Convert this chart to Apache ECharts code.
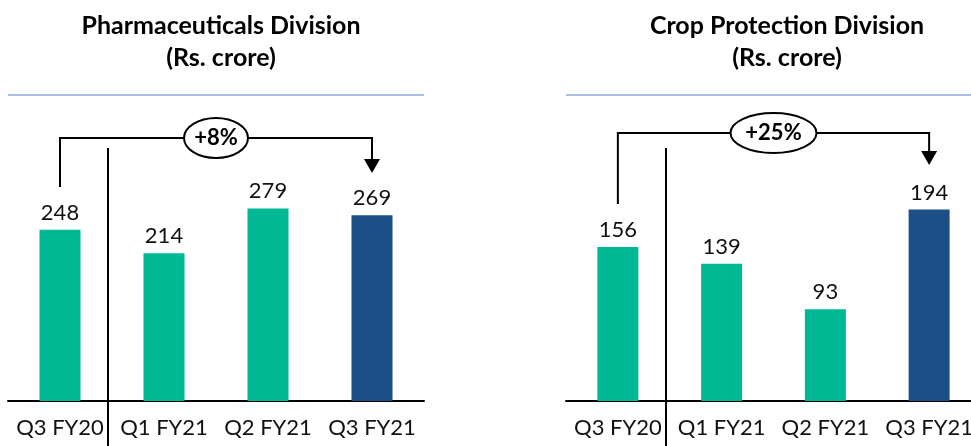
<!DOCTYPE html>
<html>
<head>
<meta charset="utf-8">
<script src="https://cdn.jsdelivr.net/npm/echarts@6/dist/echarts.min.js"></script>
<style>
  html, body { margin: 0; padding: 0; background: #fff; }
  #main { width: 971px; height: 446px; }
</style>
</head>
<body>
<div id="main"></div>
<script>
// data
var categories = ["Q3 FY20", "Q1 FY21", "Q2 FY21", "Q3 FY21"];
var pharmaValues = [248, 214, 279, 269];
var cropValues = [156, 139, 93, 194];
var pharmaGrowth = "+8%";
var cropGrowth = "+25%";

var TEAL = "#00b894";
var NAVY = "#1b4f85";
var FONT = "Lato, 'Open Sans', sans-serif";

function barData(values) {
  return values.map(function (v, i) {
    return { value: v, itemStyle: { color: i === values.length - 1 ? NAVY : TEAL } };
  });
}

function xAxisFor(gridIndex) {
  return {
    type: "category",
    gridIndex: gridIndex,
    data: categories,
    axisLine: { show: true, lineStyle: { color: "#000", width: 2 } },
    axisTick: { show: false },
    axisLabel: { color: "#111", fontSize: 22, fontFamily: FONT, margin: 16, interval: 0 }
  };
}

function yAxisFor(gridIndex, max) {
  return {
    type: "value",
    gridIndex: gridIndex,
    min: 0,
    max: max,
    show: false,
    splitLine: { show: false }
  };
}

function barSeries(idx, values) {
  return {
    type: "bar",
    xAxisIndex: idx,
    yAxisIndex: idx,
    barWidth: 41,
    data: barData(values),
    label: {
      show: true,
      position: "top",
      distance: 6,
      color: "#111",
      fontSize: 22,
      fontFamily: FONT
    }
  };
}

var myChart = echarts.init(document.getElementById("main"));
myChart.setOption({
  animation: false,
  title: [
    {
      text: "Pharmaceuticals Division\n(Rs. crore)",
      left: 216,
      top: 5,
      textAlign: "center",
      textStyle: { fontSize: 25, fontWeight: "bold", color: "#000", lineHeight: 32, fontFamily: FONT }
    },
    {
      text: "Crop Protection Division\n(Rs. crore)",
      left: 782,
      top: 5,
      textAlign: "center",
      textStyle: { fontSize: 25, fontWeight: "bold", color: "#000", lineHeight: 32, fontFamily: FONT }
    }
  ],
  grid: [
    { left: 8, width: 416, top: 100, height: 301, outerBoundsMode: "none" },
    { left: 566, width: 415, top: 100, height: 301, outerBoundsMode: "none" }
  ],
  xAxis: [xAxisFor(0), xAxisFor(1)],
  yAxis: [yAxisFor(0, 436), yAxisFor(1, 305)],
  series: [barSeries(0, pharmaValues), barSeries(1, cropValues)]
});

// bracket annotations, positioned from the axes
function bracket(idx, values, growth, topY, leftBottom, tipY, lineX0, lineX1) {
  var first = myChart.convertToPixel({ xAxisIndex: idx, yAxisIndex: idx }, [0, values[0]]);
  var last = myChart.convertToPixel({ xAxisIndex: idx, yAxisIndex: idx }, [values.length - 1, values[values.length - 1]]);
  var second = myChart.convertToPixel({ xAxisIndex: idx, yAxisIndex: idx }, [1, 0]);
  var sepX = Math.round((first[0] + second[0]) / 2 - 4);
  var midX = (first[0] + last[0]) / 2;
  var rx = growth.length > 3 ? 43 : 32;
  return [
    { type: "line", shape: { x1: lineX0, y1: 95, x2: lineX1, y2: 95 }, style: { stroke: "#8faadc", lineWidth: 1.5 } },
    { type: "line", shape: { x1: sepX, y1: 148, x2: sepX, y2: 446 }, style: { stroke: "#000", lineWidth: 2 } },
    {
      type: "polyline",
      shape: { points: [[first[0], leftBottom], [first[0], topY], [last[0], topY], [last[0], tipY - 12]] },
      style: { stroke: "#000", lineWidth: 2, fill: null }
    },
    {
      type: "polygon",
      shape: { points: [[last[0] - 8, tipY - 14], [last[0] + 8, tipY - 14], [last[0], tipY]] },
      style: { fill: "#000" }
    },
    {
      type: "ellipse",
      shape: { cx: midX, cy: topY, rx: rx, ry: 20 },
      style: { fill: "#fff", stroke: "#000", lineWidth: 2 },
      z: 10
    },
    {
      type: "text",
      x: midX,
      y: topY,
      z: 11,
      style: {
        text: growth, fontSize: 22, fontWeight: "bold", fontFamily: FONT,
        fill: "#000", align: "center", verticalAlign: "middle"
      }
    }
  ];
}

myChart.setOption({
  graphic: bracket(0, pharmaValues, pharmaGrowth, 138, 187, 173, 8, 424)
    .concat(bracket(1, cropValues, cropGrowth, 133, 204, 165, 566, 971))
});
</script>
</body>
</html>
